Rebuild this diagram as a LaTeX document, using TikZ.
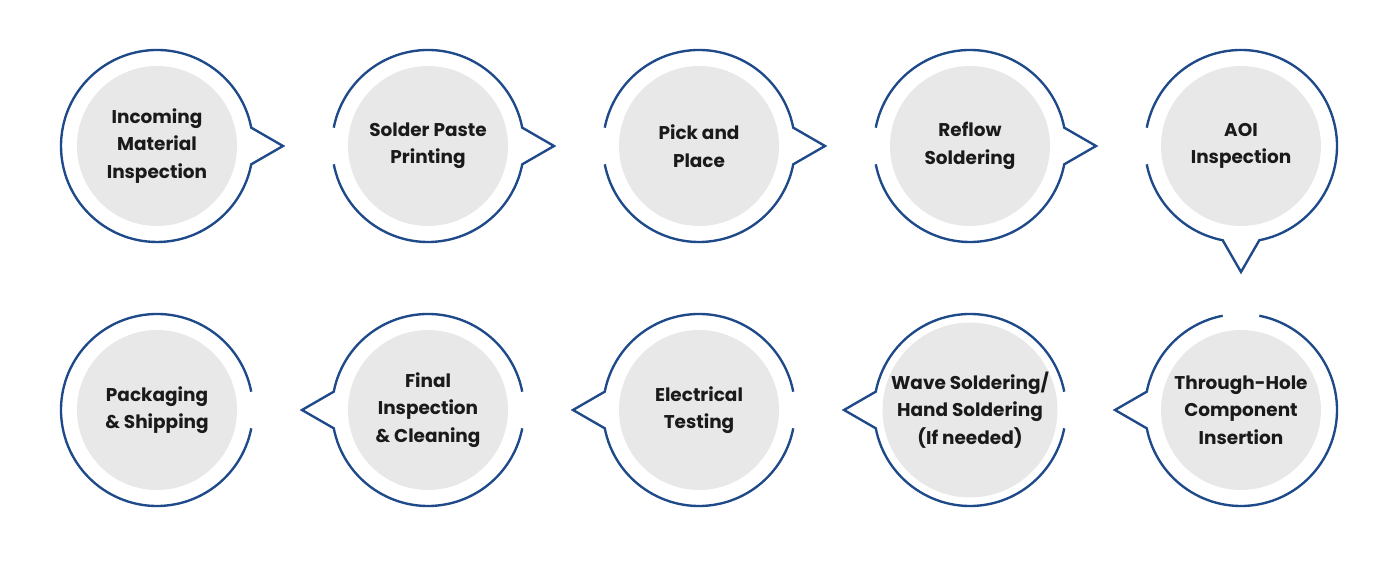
\documentclass[tikz,border=0pt]{standalone}
\usepackage{fontspec}
\setmainfont{Poppins}
\definecolor{ringblue}{HTML}{1F4A8A}
\definecolor{discgray}{HTML}{E8E8E8}
\definecolor{inkblack}{HTML}{1A1A1A}
\def\rout{1.92cm}
\def\rtip{2.52cm}
% outer ring: node, pointer angle, gap angle (gap = where the previous pointer comes in)
\newcommand\bubble[4][11]{%
  \pgfmathsetmacro\gp{#4<#3 ? #4+360 : #4}
  \draw[ring] (#2.center) ++(\gp+#1:\rout) arc[start angle=\gp+#1, end angle=#3+349, radius=\rout]
    -- ([shift={(#3:\rtip)}]#2.center) -- ([shift={(#3+11:\rout)}]#2.center)
    arc[start angle=#3+11, end angle=\gp-#1, radius=\rout];
}
\tikzset{
  stepnode/.style={circle, fill=discgray, minimum size=3.2cm, inner sep=0pt, align=center,
    text=inkblack, font=\fontsize{10.5}{15.6}\selectfont\bfseries},
  ring/.style={draw=ringblue, line width=1.35pt, line join=miter}
}
\begin{document}
\begin{tikzpicture}
\useasboundingbox (0,0) rectangle (28,11.44);
\foreach \i/\t in {1/{Incoming\\Material\\Inspection},2/{Solder Paste\\Printing},3/{Pick and\\Place},4/{Reflow\\Soldering},5/{AOI\\Inspection}}
  {\node[stepnode] (s\i) at ({3.14+(\i-1)*5.42},8.52) {\t};}
\foreach \i/\c/\t in {6/5/{Through-Hole\\Component\\Insertion},7/4/{Wave Soldering/\\Hand Soldering\\(If needed)},8/3/{Electrical\\Testing},9/2/{Final\\Inspection\\\& Cleaning},10/1/{Packaging\\\& Shipping}}
  {\node[stepnode] (s\i) at ({3.14+(\c-1)*5.42},3.24) {\t};}

\bubble[0]{s1}{0}{180}
\foreach \i in {2,3,4} {\bubble{s\i}{0}{180}}
\bubble{s5}{270}{180}
\bubble{s6}{180}{90}
\foreach \i in {7,8,9} {\bubble{s\i}{180}{0}}
\draw[ring] (s10.center) ++(11:\rout) arc[start angle=11, end angle=349, radius=\rout];
\end{tikzpicture}
\end{document}
